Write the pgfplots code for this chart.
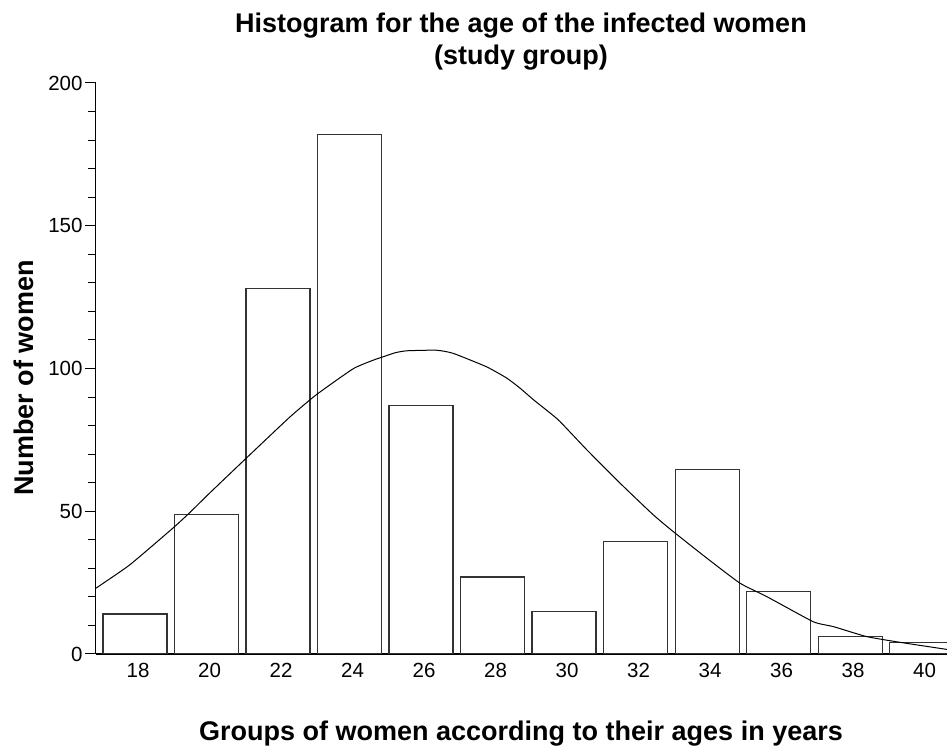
\documentclass[border=0pt]{standalone}
\usepackage{fontspec}
\setmainfont{Liberation Sans}
\usepackage{pgfplots}
\pgfplotsset{compat=1.18}

\begin{document}
\begin{tikzpicture}[x=1pt,y=1pt]
\useasboundingbox (0,0) rectangle (947,746);
\begin{axis}[
  at={(95.7pt,92pt)}, anchor=south west,
  width=851.3pt, height=571pt, scale only axis,
  xmin=16.9, xmax=40.71, ymin=0, ymax=200,
  axis x line=bottom, axis y line=left,
  axis line style={-, line width=1.3pt},
  xtick={18,20,...,40},
  x tick style={draw=none},
  xticklabel style={yshift=5pt, xshift=3pt},
  ytick={0,50,...,200},
  minor y tick num=4,
  tick align=outside,
  major tick length=10.7pt, minor tick length=7.5pt,
  y tick style={line width=1pt, black},
  yticklabel style={xshift=1pt},
  tick label style={font=\fontsize{20.5}{20.5}\selectfont},
  /pgf/number format/assume math mode=true,
  clip=true,
]
\addplot[ybar, bar width=1.79, bar shift=0pt, draw=black!80, line width=1.2pt, fill=white]
  coordinates {(18,14) (20,49) (22,128) (24,182) (26,87) (28,27)
               (30,15) (32,39.5) (34,64.5) (36,22) (38,6) (40,4)};
\addplot[black, line width=1pt, smooth, tension=0.3] coordinates {
  (16.90,23.0) (17.85,31.2) (19.06,44.1) (19.52,49.4) (20.09,56.4)
  (21.12,68.7) (22.33,83.0) (23.08,90.9) (24.10,99.9) (24.66,102.9)
  (24.94,104.1) (25.27,105.5) (25.60,106.2) (26.43,106.4) (26.90,105.3)
  (27.83,100.6) (28.39,96.7) (28.76,93.2) (29.14,89.1) (29.60,84.5)
  (29.88,81.5) (30.63,71.6) (31.56,59.9) (32.49,48.8) (33.05,42.9)
  (33.99,33.6) (34.92,24.8) (35.67,20.1) (36.97,11.3) (37.53,9.6)
  (38.46,6.1) (39.39,4.1) (40.71,1.6)};
\end{axis}
\node[anchor=base, font=\fontsize{27}{27}\selectfont\bfseries] at (521pt,713.3pt)
  {Histogram for the age of the infected women};
\node[anchor=base, font=\fontsize{27}{27}\selectfont\bfseries] at (521pt,681pt)
  {(study group)};
\node[anchor=base, font=\fontsize{27}{27}\selectfont\bfseries] at (521pt,5pt)
  {Groups of women according to their ages in years};
\node[anchor=base, rotate=90, font=\fontsize{27}{27}\selectfont\bfseries] at (33pt,368pt)
  {Number of women};
\end{tikzpicture}
\end{document}
